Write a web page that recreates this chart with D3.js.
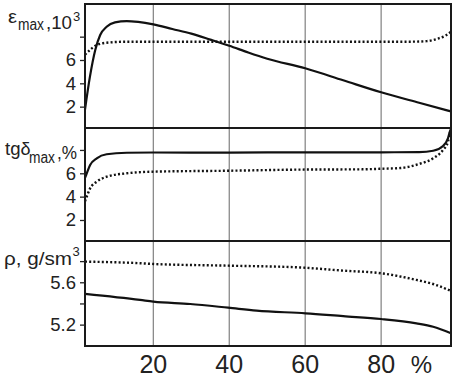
<!DOCTYPE html>
<html><head><meta charset="utf-8">
<script src="https://cdn.jsdelivr.net/npm/d3@7"></script>
<style>
body{margin:0;background:#fff}
text{font-family:"Liberation Sans",Arial,sans-serif;fill:#222}
</style>
</head><body>
<svg id="c" width="452" height="379"></svg>
<script>
// ---- data ----
const gridX = [20, 40, 60, 80];
const xTickLabels = ["20", "40", "60", "80"];
const xUnit = "%";

const epsTicks = [2, 4, 6, 8];
const epsTickLabels = ["2", "4", "6", ""];
const tgTicks = [2, 4, 6, 8];
const tgTickLabels = ["2", "4", "6", ""];
const rhoTicks = [5.2, 5.4, 5.6, 5.8];
const rhoTickLabels = ["5.2", "", "5.6", ""];

// epsilon_max, 10^3
const epsSolidX = [2.0, 3.3, 4.7, 6.0, 7.7, 9.9, 13, 16, 20, 25, 30, 35, 40, 45, 50, 60, 70, 80, 90, 98.4];
const epsSolidY = [1.75, 4.57, 6.86, 8.14, 8.85, 9.23, 9.34, 9.27, 9.06, 8.66, 8.26, 7.75, 7.22, 6.64, 6.11, 5.29, 4.26, 3.23, 2.33, 1.59];
const epsDotX = [2.0, 3.8, 5.1, 7.7, 13, 30, 50, 70, 88, 92, 95, 97, 98.4];
const epsDotY = [6.45, 7.0, 7.28, 7.48, 7.57, 7.57, 7.57, 7.57, 7.57, 7.62, 7.84, 8.1, 8.43];

// tg delta_max, %
const tgSolidX = [2.0, 2.3, 3.35, 5.1, 7.7, 13, 20, 40, 60, 80, 90, 93.7, 96.3, 97.6, 98.1, 98.4];
const tgSolidY = [5.6, 5.85, 6.71, 7.28, 7.63, 7.76, 7.78, 7.77, 7.8, 7.8, 7.82, 7.93, 8.34, 9.0, 9.56, 9.8];
const tgDotX = [2.0, 2.3, 3.35, 5.1, 7.7, 13, 20, 40, 60, 75, 80, 85, 90, 93.7, 96.3, 97.6, 98.1, 98.4];
const tgDotY = [3.6, 3.86, 4.71, 5.28, 5.71, 6.0, 6.14, 6.22, 6.32, 6.34, 6.39, 6.45, 6.8, 7.28, 8.0, 8.7, 9.43, 9.85];

// rho, g/sm^3
const rhoSolidX = [2, 16.5, 20, 29.7, 39.7, 47.2, 60.1, 70, 80, 89.3, 93.7, 98.4];
const rhoSolidY = [5.49, 5.433, 5.417, 5.395, 5.36, 5.332, 5.307, 5.28, 5.253, 5.212, 5.18, 5.118];
const rhoDotX = [2, 16.5, 20, 39.7, 58.6, 70, 80, 89.3, 94, 98.4];
const rhoDotY = [5.795, 5.78, 5.773, 5.757, 5.74, 5.71, 5.685, 5.622, 5.58, 5.518];

// ---- chart ----
const svg = d3.select("#c");
const L = 85, R = 451;
const x = d3.scaleLinear().domain([2, 98.4]).range([L, R]);

const panels = [
  {top: 4, bottom: 128, domain: [0.17, 10.8], ticks: epsTicks, labels: epsTickLabels,
   solid: [epsSolidX, epsSolidY], dot: [epsDotX, epsDotY]},
  {top: 128, bottom: 241, domain: [0.2, 9.88], ticks: tgTicks, labels: tgTickLabels,
   solid: [tgSolidX, tgSolidY], dot: [tgDotX, tgDotY]},
  {top: 241, bottom: 346, domain: [4.998, 5.99], ticks: rhoTicks, labels: rhoTickLabels,
   solid: [rhoSolidX, rhoSolidY], dot: [rhoDotX, rhoDotY]}
];

panels.forEach((p, i) => {
  const y = d3.scaleLinear().domain(p.domain).range([p.bottom, p.top]);
  const g = svg.append("g");
  // grid
  g.selectAll("line.grid").data(gridX).enter().append("line")
    .attr("x1", d => x(d)).attr("x2", d => x(d))
    .attr("y1", p.top).attr("y2", p.bottom)
    .attr("stroke", "#8a8a8a").attr("stroke-width", 1.3);
  const line = d3.line().x(d => x(d[0])).y(d => y(d[1])).curve(d3.curveMonotoneX);
  const solidPts = p.solid[0].map((v, k) => [v, p.solid[1][k]]);
  const dotPts = p.dot[0].map((v, k) => [v, p.dot[1][k]]);
  g.append("path").attr("d", line(dotPts)).attr("fill", "none")
    .attr("stroke", "#111").attr("stroke-width", 2.4).attr("stroke-dasharray", "2,2.2");
  g.append("path").attr("d", line(solidPts)).attr("fill", "none")
    .attr("stroke", "#111").attr("stroke-width", 2.2);
  // frame
  g.append("rect").attr("x", L).attr("y", p.top).attr("width", R - L).attr("height", p.bottom - p.top)
    .attr("fill", "none").attr("stroke", "#1a1a1a").attr("stroke-width", 2);
  // y axis
  const ax = d3.axisLeft(y).tickValues(p.ticks).tickSize(5).tickPadding(4)
    .tickFormat((d, k) => p.labels[k]);
  const axg = g.append("g").attr("transform", `translate(${L},0)`).call(ax);
  axg.select(".domain").remove();
  axg.selectAll("line").attr("stroke", "#222").attr("stroke-width", 1.3);
  axg.selectAll("text").attr("font-size", 18.5).attr("font-family", '"Liberation Sans",Arial,sans-serif').attr("fill", "#222");
});

// x labels
svg.append("g").selectAll("text").data(gridX).enter().append("text")
  .attr("x", d => x(d)).attr("y", 373).attr("text-anchor", "middle")
  .attr("font-size", 25).text((d, k) => xTickLabels[k]);
svg.append("text").attr("x", 421.5).attr("y", 373).attr("text-anchor", "middle")
  .attr("font-size", 24).text(xUnit);

// titles
function t(xp, yp, size, str, len) {
  const e = svg.append("text").attr("x", xp).attr("y", yp).attr("font-size", size).text(str);
  if (len) e.attr("textLength", len).attr("lengthAdjust", "spacingAndGlyphs");
  return e;
}
t(8, 23, 19, "ε", 9);
t(18, 29.5, 16, "max", 26);
t(46, 29, 18, ",10", 26);
t(73, 21, 13, "3");

t(5, 155, 18, "tg", 15.5);
t(20.5, 155, 18, "δ");
t(29, 162.5, 16, "max", 26);
t(57, 159, 18, ",%", 20);

t(4, 265, 18, "ρ, g/sm", 68);
t(72.5, 256, 13, "3");
</script>
</body></html>
